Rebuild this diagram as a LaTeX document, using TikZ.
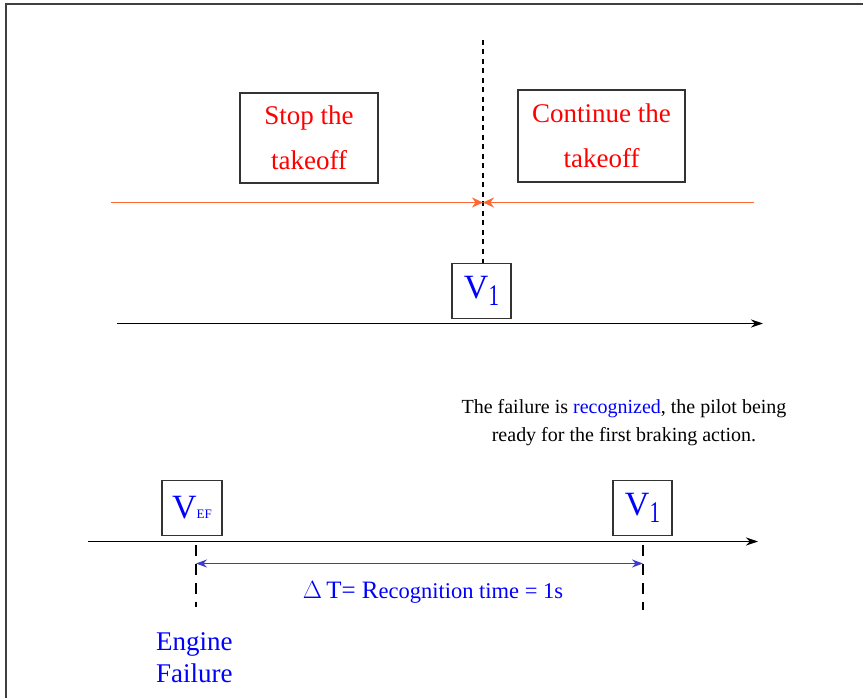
\documentclass[tikz,border=0pt]{standalone}
\usepackage{fontspec}
\setmainfont{Liberation Serif}
\usetikzlibrary{arrows.meta}
\definecolor{orangeline}{RGB}{255,102,51}
\definecolor{arrowblue}{RGB}{60,60,205}
\newcommand{\Vone}{{\fontsize{34}{34}\selectfont V}\raisebox{-7pt}{\scalebox{0.7}[1]{\fontsize{30}{30}\selectfont 1}}}
\begin{document}
\begin{tikzpicture}[x=1pt,y=-1pt,
  box/.style={draw=black!80,line width=1.2pt,inner sep=0pt},
  redtxt/.style={text=red,font=\fontsize{27}{45}\selectfont,align=center},
  vbox/.style={box,text=blue,minimum width=59pt,minimum height=55pt},
  blacktip/.style={-{Stealth[length=12pt,width=8pt]},line width=1.5pt},
  orangearrow/.style={draw=orangeline,line width=1.5pt,-{Stealth[length=11pt,width=10pt]}},
  vdash/.style={line width=1.8pt,dash pattern=on 5pt off 4.5pt},
  vdashlong/.style={line width=1.8pt,dash pattern=on 11pt off 8pt}]
\useasboundingbox (0,0) rectangle (863,698);
% frame
\draw[line width=2pt,black!75] (6,698) -- (6,4.5) -- (863,4.5);
% top boxes
\node[box,redtxt,minimum width=138pt,minimum height=90pt] (stop) at (309,138) {Stop the\\takeoff};
\node[box,redtxt,minimum width=167pt,minimum height=92pt] (cont) at (601.5,136) {Continue the\\takeoff};
% upper V1
\node[vbox] (v1a) at (481.5,291) {\Vone};
\coordinate (dtop) at (483,40);
\coordinate (dmid) at (483,202.5);
\draw[vdash] (dtop) -- (v1a.north -| dtop);
% orange arrows
\coordinate (oleft) at (111,202.5);
\coordinate (oright) at (754,202.5);
\draw[orangearrow] (oleft) -- (dmid);
\draw[orangearrow] (oright) -- (dmid);
% upper axis
\coordinate (a1s) at (117,323.5);
\coordinate (a1e) at (763,323.5);
\draw[blacktip] (a1s) -- (a1e);
% text
\node[font=\fontsize{20}{28}\selectfont,align=center] (recog) at (624,423)
  {The failure is \textcolor{blue}{recognized}, the pilot being\\ready for the first braking action.};
% lower boxes
\node[vbox,minimum width=60pt] (vef) at (192,508)
  {{\fontsize{34}{34}\selectfont V}{\fontsize{13}{13}\selectfont EF}};
\node[vbox] (v1b) at (642.5,508) {\Vone};
% lower axis
\coordinate (a2s) at (88,541.5);
\coordinate (a2e) at (758,541.5);
\draw[blacktip] (a2s) -- (a2e);
% dashed markers
\coordinate (d1t) at (196,545);
\coordinate (d1b) at (196,607);
\coordinate (d2t) at (643,545);
\coordinate (d2b) at (643,610);
\draw[vdashlong] (d1t) -- (d1b);
\draw[vdashlong] (d2t) -- (d2b);
% blue double arrow
\coordinate (b1) at (196,563.5);
\coordinate (b2) at (643,563.5);
\draw[draw=arrowblue,line width=1.5pt,{Stealth[length=11pt,width=8pt]}-{Stealth[length=11pt,width=8pt]}] (b1) -- (b2);
\node[text=blue,anchor=base] (dt) at (433,598)
  {{\fontsize{25}{25}\selectfont $\Delta$\,T= R}{\fontsize{22.5}{22.5}\selectfont ecognition time = 1s}};
% engine failure
\node[text=blue,font=\fontsize{27}{32}\selectfont,align=left,anchor=north west,inner sep=0pt] (ef) at (156,632)
  {Engine\\Failure};
\end{tikzpicture}
\end{document}
